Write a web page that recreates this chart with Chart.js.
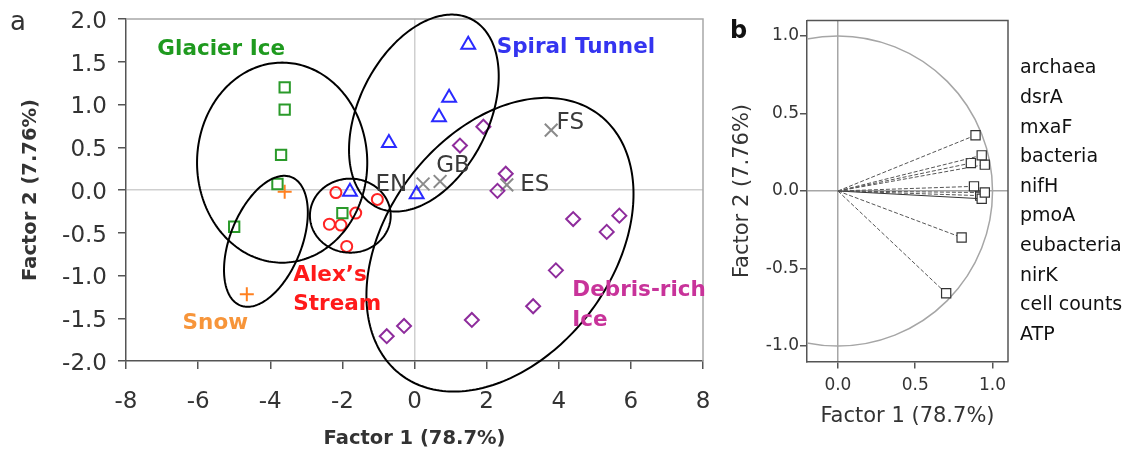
<!DOCTYPE html>
<html>
<head>
<meta charset="utf-8">
<script src="https://cdn.jsdelivr.net/npm/chart.js@4.4.0/dist/chart.umd.min.js"></script>
<style>
  html, body { margin: 0; padding: 0; background: #fff; }
  #wrap { position: relative; width: 1130px; height: 455px; overflow: hidden; }
  #wa { position: absolute; left: 0; top: 0; width: 720px; height: 455px; }
  #wb { position: absolute; left: 720px; top: 0; width: 410px; height: 455px; }
</style>
</head>
<body>
<div id="wrap">
  <div id="wa"><canvas id="ca"></canvas></div>
  <div id="wb"><canvas id="cb"></canvas></div>
</div>
<script>
// ---- Panel a: sample scores on factors 1 and 2 ----
const glacierIce    = [[-3.6, 1.2], [-3.6, 0.94], [-3.7, 0.41], [-3.8, 0.07], [-5.0, -0.43], [-2.0, -0.27]];
const snow          = [[-3.6, -0.02], [-4.65, -1.22]];
const alexsStream   = [[-2.18, -0.03], [-1.03, -0.11], [-1.63, -0.27], [-2.36, -0.40], [-2.04, -0.41], [-1.88, -0.66]];
const spiralTunnel  = [[1.49, 1.70], [0.96, 1.08], [0.68, 0.85], [-0.71, 0.55], [-1.79, -0.02], [0.06, -0.05]];
const debrisRichIce = [[1.91, 0.74], [1.26, 0.52], [2.53, 0.19], [2.30, -0.01], [4.40, -0.34], [5.68, -0.30],
                       [5.33, -0.49], [3.92, -0.94], [3.29, -1.36], [1.59, -1.52], [-0.29, -1.59], [-0.77, -1.71]];
const otherSites     = [[0.24, 0.07], [0.71, 0.10], [3.79, 0.70], [2.56, 0.06]];
const otherSiteNames = ['EN', 'GB', 'FS', 'ES'];

// Group ellipses: centre plus two semi-axis vectors, in factor units
const ellipseCentres = [[-3.67, 0.32], [-4.12, -0.60], [-1.78, -0.30], [0.26, 0.90], [2.37, -0.64]];
const ellipseAxisU   = [[2.36, 0], [0.71, 0.75], [1.12, 0], [1.31, 1.10], [2.75, 1.52]];
const ellipseAxisV   = [[0, 1.17], [-0.92, 0.155], [0, 0.433], [-1.61, 0.34], [-2.48, 0.80]];

const xTicksA = [-8, -6, -4, -2, 0, 2, 4, 6, 8];
const yTicksA = [-2, -1.5, -1, -0.5, 0, 0.5, 1, 1.5, 2];

// ---- Panel b: variable loadings ----
const variables = ['archaea', 'dsrA', 'mxaF', 'bacteria', 'nifH', 'pmoA', 'eubacteria', 'nirK', 'cell counts', 'ATP'];
const loading1  = [0.89, 0.93, 0.86, 0.95, 0.88, 0.95, 0.93, 0.92, 0.80, 0.70];
const loading2  = [0.36, 0.23, 0.18, 0.17, 0.03, -0.01, -0.05, -0.03, -0.30, -0.66];

const xTicksB = [0, 0.5, 1];
const yTicksB = [-1, -0.5, 0, 0.5, 1];

const FONT = "'DejaVu Sans', 'Liberation Sans', sans-serif";
const toPts = arr => arr.map(p => ({ x: p[0], y: p[1] }));

// Annotation text for panel a, anchored in factor units (left edge, baseline)
const groupLabels = [
  { text: 'Glacier Ice',   x: -7.13, y: 1.575, color: '#1f9a1f' },
  { text: 'Spiral Tunnel', x: 2.28,  y: 1.60,  color: '#3434f0' },
  { text: 'Alex\u2019s',   x: -3.36, y: -1.064, color: '#ff1a1a' },
  { text: 'Stream',        x: -3.36, y: -1.407, color: '#ff1a1a' },
  { text: 'Snow',          x: -6.43, y: -1.63, color: '#f7953a' },
  { text: 'Debris-rich',   x: 4.376, y: -1.24, color: '#c8339a' },
  { text: 'Ice',           x: 4.376, y: -1.59, color: '#c8339a' }
];
const siteLabelOffsets = [[-1.32, -0.08], [-0.11, 0.11], [0.15, 0.01], [0.37, -0.07]];

const panelA = {
  id: 'panelA',
  beforeDatasetsDraw(chart) {
    const { ctx, chartArea: a } = chart;
    ctx.save();
    ctx.strokeStyle = '#a8a8a8';
    ctx.lineWidth = 1.5;
    ctx.beginPath();
    ctx.moveTo(a.left, a.top);
    ctx.lineTo(a.right, a.top);
    ctx.lineTo(a.right, a.bottom);
    ctx.stroke();
    ctx.restore();
  },
  afterDatasetsDraw(chart) {
    const { ctx } = chart;
    const xs = chart.scales.x, ys = chart.scales.y;
    ctx.save();
    ctx.strokeStyle = '#000';
    ctx.lineWidth = 2;
    for (let k = 0; k < ellipseCentres.length; k++) {
      const c = ellipseCentres[k], u = ellipseAxisU[k], v = ellipseAxisV[k];
      ctx.beginPath();
      for (let i = 0; i <= 240; i++) {
        const t = i / 240 * Math.PI * 2;
        const px = xs.getPixelForValue(c[0] + u[0] * Math.cos(t) + v[0] * Math.sin(t));
        const py = ys.getPixelForValue(c[1] + u[1] * Math.cos(t) + v[1] * Math.sin(t));
        if (i === 0) ctx.moveTo(px, py); else ctx.lineTo(px, py);
      }
      ctx.closePath();
      ctx.stroke();
    }
    ctx.restore();
  },
  afterDraw(chart) {
    const { ctx } = chart;
    const xs = chart.scales.x, ys = chart.scales.y;
    ctx.save();
    ctx.textBaseline = 'alphabetic';
    ctx.textAlign = 'left';
    ctx.font = 'bold 21.5px ' + FONT;
    groupLabels.forEach(l => {
      ctx.fillStyle = l.color;
      ctx.fillText(l.text, xs.getPixelForValue(l.x), ys.getPixelForValue(l.y));
    });
    ctx.font = '23px ' + FONT;
    ctx.fillStyle = '#3a3a3a';
    otherSites.forEach((p, i) => {
      const o = siteLabelOffsets[i];
      ctx.fillText(otherSiteNames[i], xs.getPixelForValue(p[0] + o[0]), ys.getPixelForValue(p[1] + o[1]));
    });
    ctx.font = '26px ' + FONT;
    ctx.fillStyle = '#333';
    ctx.fillText('a', 10, 30);
    ctx.restore();
  }
};

function zeroGrid(color) {
  return c => (c.tick && c.tick.value === 0) ? color : 'rgba(0,0,0,0)';
}
// Fixed axis box size; edge labels may overhang into the layout padding
function fixBox(w, h) {
  return s => {
    if (w != null) s.width = w;
    if (h != null) s.height = h;
    s.paddingLeft = 0; s.paddingRight = 0; s.paddingTop = 0; s.paddingBottom = 0;
  };
}

const markerBase = { showLine: false, backgroundColor: 'rgba(0,0,0,0)', borderWidth: 2, pointBorderWidth: 2 };

new Chart(document.getElementById('ca'), {
  type: 'scatter',
  data: {
    datasets: [
      { ...markerBase, label: 'Glacier Ice', data: toPts(glacierIce), pointStyle: 'rect', pointRadius: 7.3, borderColor: '#2a9a2a' },
      { ...markerBase, label: 'Snow', data: toPts(snow), pointStyle: 'cross', pointRadius: 7, borderColor: '#ff8020' },
      { ...markerBase, label: "Alex's Stream", data: toPts(alexsStream), pointStyle: 'circle', pointRadius: 5.5, borderColor: '#ff2424' },
      { ...markerBase, label: 'Spiral Tunnel', data: toPts(spiralTunnel), pointStyle: 'triangle', pointRadius: 8, borderColor: '#2a2aff' },
      { ...markerBase, label: 'Debris-rich Ice', data: toPts(debrisRichIce), pointStyle: 'rectRot', pointRadius: 7, borderColor: '#8e2c9c' },
      { ...markerBase, label: 'Other sites', data: toPts(otherSites), pointStyle: 'crossRot', pointRadius: 9, borderColor: '#8a8a8a' }
    ]
  },
  options: {
    responsive: true,
    maintainAspectRatio: false,
    animation: false,
    events: [],
    layout: { padding: { top: 19, right: 17, left: 0, bottom: 0 } },
    plugins: { legend: { display: false }, tooltip: { enabled: false } },
    scales: {
      x: {
        type: 'linear', min: -8, max: 8,
        afterBuildTicks: s => { s.ticks = xTicksA.map(v => ({ value: v })); },
        afterFit: fixBox(null, 94),
        border: { display: true, color: '#555', width: 1.5 },
        grid: { color: zeroGrid('#cfcfcf'), lineWidth: 1.5, tickColor: '#555', tickLength: 8, drawTicks: true },
        ticks: { color: '#333', font: { family: FONT, size: 23 }, padding: 19, maxRotation: 0, autoSkip: false,
                 callback: v => String(v) },
        title: { display: true, text: 'Factor 1 (78.7%)', color: '#333', font: { family: FONT, size: 19.5, weight: 'bold' },
                 padding: { top: 0, bottom: 4 } }
      },
      y: {
        type: 'linear', min: -2, max: 2,
        afterBuildTicks: s => { s.ticks = yTicksA.map(v => ({ value: v })); },
        afterFit: fixBox(126, null),
        border: { display: true, color: '#555', width: 1.5 },
        grid: { color: zeroGrid('#cfcfcf'), lineWidth: 1.5, tickColor: '#555', tickLength: 8, drawTicks: true },
        ticks: { color: '#333', font: { family: FONT, size: 23 }, padding: 11, labelOffset: 3, autoSkip: false,
                 callback: v => Number(v).toFixed(1) },
        title: { display: true, text: 'Factor 2 (7.76%)', color: '#333', font: { family: FONT, size: 19.5, weight: 'bold' },
                 padding: { top: 19, bottom: 0 } }
      }
    }
  },
  plugins: [panelA]
});

// ---- Panel b ----
const panelB = {
  id: 'panelB',
  beforeDatasetsDraw(chart) {
    const { ctx, chartArea: a } = chart;
    const xs = chart.scales.x, ys = chart.scales.y;
    ctx.save();
    ctx.beginPath();
    ctx.rect(a.left, a.top, a.right - a.left, a.bottom - a.top);
    ctx.clip();
    const cx = xs.getPixelForValue(0), cy = ys.getPixelForValue(0);
    const rx = xs.getPixelForValue(1) - cx, ry = cy - ys.getPixelForValue(1);
    ctx.strokeStyle = '#a6a6a6';
    ctx.lineWidth = 1.5;
    ctx.beginPath();
    ctx.ellipse(cx, cy, rx, ry, 0, 0, Math.PI * 2);
    ctx.stroke();
    ctx.restore();
    ctx.save();
    ctx.strokeStyle = '#555';
    ctx.lineWidth = 1.5;
    ctx.beginPath();
    ctx.moveTo(a.left, a.top);
    ctx.lineTo(a.right, a.top);
    ctx.lineTo(a.right, a.bottom);
    ctx.stroke();
    ctx.restore();
  },
  afterDraw(chart) {
    const { ctx, chartArea: a } = chart;
    ctx.save();
    ctx.fillStyle = '#111';
    ctx.font = '19px ' + FONT;
    ctx.textAlign = 'left';
    ctx.textBaseline = 'middle';
    variables.forEach((name, i) => {
      ctx.fillText(name, a.right + 12, 68.5 + i * 29.6);
    });
    ctx.font = 'bold 24px ' + FONT;
    ctx.textBaseline = 'alphabetic';
    ctx.fillStyle = '#111';
    ctx.fillText('b', 10, 38);
    ctx.restore();
  }
};

const loadingSets = variables.map((name, i) => ({
  label: name,
  data: [{ x: 0, y: 0 }, { x: loading1[i], y: loading2[i] }],
  showLine: true,
  borderColor: i === 6 ? '#333' : '#555',
  borderWidth: 1,
  borderDash: i === 6 ? [] : [4, 2],
  pointStyle: 'rect',
  pointRadius: c => c.dataIndex === 0 ? 0 : 6.5,
  pointBorderWidth: 1.2,
  pointBorderColor: '#333',
  pointBackgroundColor: '#fff'
}));

new Chart(document.getElementById('cb'), {
  type: 'scatter',
  data: { datasets: loadingSets },
  options: {
    responsive: true,
    maintainAspectRatio: false,
    animation: false,
    events: [],
    layout: { padding: { top: 20.5, right: 122, left: 0, bottom: 0 } },
    plugins: { legend: { display: false }, tooltip: { enabled: false } },
    scales: {
      x: {
        type: 'linear', min: -0.2, max: 1.1,
        afterBuildTicks: s => { s.ticks = xTicksB.map(v => ({ value: v })); },
        afterFit: fixBox(null, 93.5),
        border: { display: true, color: '#555', width: 1.5 },
        grid: { color: zeroGrid('#a6a6a6'), lineWidth: 1.5, tickColor: '#555', tickLength: 7, drawTicks: true },
        ticks: { color: '#333', font: { family: FONT, size: 17 }, padding: 6.6, maxRotation: 0, autoSkip: false,
                 callback: v => Number(v).toFixed(1) },
        title: { display: true, text: 'Factor 1 (78.7%)', color: '#333', font: { family: FONT, size: 21 },
                 padding: { top: 0, bottom: 25.7 } }
      },
      y: {
        type: 'linear', min: -1.1, max: 1.1,
        afterBuildTicks: s => { s.ticks = yTicksB.map(v => ({ value: v })); },
        afterFit: fixBox(87, null),
        border: { display: true, color: '#555', width: 1.5 },
        grid: { color: zeroGrid('#a6a6a6'), lineWidth: 1.5, tickColor: '#555', tickLength: 7, drawTicks: true },
        ticks: { color: '#333', font: { family: FONT, size: 17 }, padding: 1, autoSkip: false,
                 callback: v => Number(v).toFixed(1) },
        title: { display: true, text: 'Factor 2 (7.76%)', color: '#333', font: { family: FONT, size: 21 },
                 padding: { top: 10.4, bottom: 0 } }
      }
    }
  },
  plugins: [panelB]
});
</script>
</body>
</html>
